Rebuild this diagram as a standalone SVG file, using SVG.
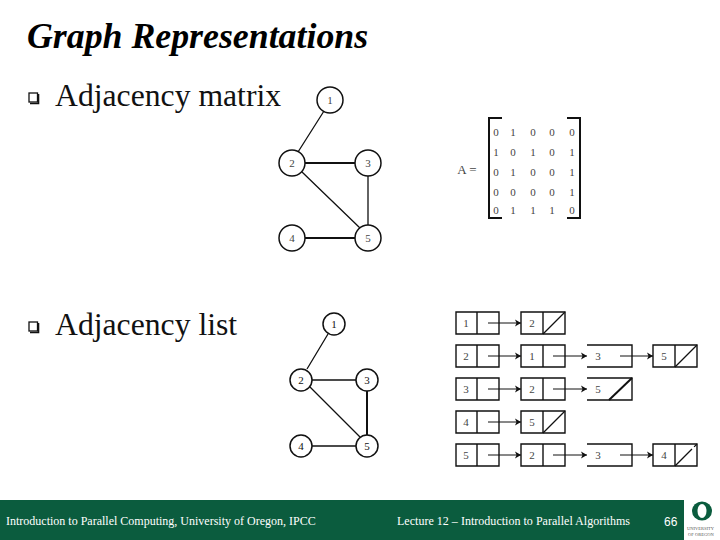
<svg xmlns="http://www.w3.org/2000/svg" width="720" height="540" viewBox="0 0 720 540">
<defs>
<marker id="arr" markerWidth="7" markerHeight="8" refX="6" refY="4" orient="auto" markerUnits="userSpaceOnUse"><path d="M0 0.5L6 4L0 7.5L1.5 4Z" fill="#111"/></marker>
</defs>
<style>
.t{font-family:"Liberation Serif","Times New Roman",serif;fill:#111}
.h{font-size:35.8px;font-weight:bold;font-style:italic;fill:#000}
.b{font-size:31.7px}
.n{font-size:11px;text-anchor:middle;fill:#444}
.m{font-size:11px;text-anchor:middle;fill:#444}
.f{font-size:12px;fill:#fff}
.c{fill:#fff;stroke:#111;stroke-width:1.5}
.e{stroke:#111;stroke-width:1.3;fill:none}
.k{stroke:#111;stroke-width:2;fill:none}
.box{fill:#fff;stroke:#111;stroke-width:1.4}
.a{stroke:#111;stroke-width:1;fill:none;marker-end:url(#arr)}
.s{stroke:#111;stroke-width:1.3;fill:none}
.br{stroke:#111;stroke-width:2;fill:none}
.q{fill:#fff;stroke:#111;stroke-width:1.3}
.qs{fill:none;stroke:#111;stroke-width:1.6}
</style>
<rect width="720" height="540" fill="#fff"/>
<text class="t h" x="27" y="48">Graph Representations</text>
<rect class="q" x="29" y="93" width="8.5" height="9"/><path class="qs" d="M38.5 94V103.5H30"/>
<text class="t b" x="55" y="106">Adjacency matrix</text>
<rect class="q" x="29" y="322" width="8.5" height="9"/><path class="qs" d="M38.5 323V332.500H30"/>
<text class="t b" x="55" y="335">Adjacency list</text>

<g id="g1n1"><circle class="c" cx="330" cy="100" r="13"/><text class="t n" x="330" y="104">1</text></g>
<g id="g1n2"><circle class="c" cx="292" cy="163" r="13"/><text class="t n" x="292" y="167">2</text></g>
<g id="g1n3"><circle class="c" cx="368" cy="163" r="13"/><text class="t n" x="368" y="167">3</text></g>
<g id="g1n4"><circle class="c" cx="292" cy="238" r="13"/><text class="t n" x="292" y="242">4</text></g>
<g id="g1n5"><circle class="c" cx="368" cy="238" r="13"/><text class="t n" x="368" y="242">5</text></g>

<g id="matrix">
<text class="t m" x="467" y="174" style="font-size:13px">A =</text>
<path class="br" d="M502 118H489V218H502M567 118H580V218H567"/>
<g class="t m">
<text x="496" y="136">0</text><text x="513" y="136">1</text><text x="533" y="136">0</text><text x="552" y="136">0</text><text x="572" y="136">0</text>
<text x="496" y="156">1</text><text x="513" y="156">0</text><text x="533" y="156">1</text><text x="552" y="156">0</text><text x="572" y="156">1</text>
<text x="496" y="176">0</text><text x="513" y="176">1</text><text x="533" y="176">0</text><text x="552" y="176">0</text><text x="572" y="176">1</text>
<text x="496" y="196">0</text><text x="513" y="196">0</text><text x="533" y="196">0</text><text x="552" y="196">0</text><text x="572" y="196">1</text>
<text x="496" y="214">0</text><text x="513" y="214">1</text><text x="533" y="214">1</text><text x="552" y="214">1</text><text x="572" y="214">0</text>
</g>
</g>

<g id="g2n1"><circle class="c" cx="334" cy="324" r="11"/><text class="t n" style="fill:#111" x="334" y="328">1</text></g>
<g id="g2n2"><circle class="c" cx="301" cy="380" r="11"/><text class="t n" style="fill:#111" x="301" y="384">2</text></g>
<g id="g2n3"><circle class="c" cx="367" cy="380" r="11"/><text class="t n" style="fill:#111" x="367" y="384">3</text></g>
<g id="g2n4"><circle class="c" cx="301" cy="446" r="11"/><text class="t n" style="fill:#111" x="301" y="450">4</text></g>
<g id="g2n5"><circle class="c" cx="367" cy="446" r="11"/><text class="t n" style="fill:#111" x="367" y="450">5</text></g>

<g id="list">
<g id="row1">
<path class="box" d="M456 312H499V334H456ZM477 312V334M521 312H565V334H521ZM543 312V334"/>
<path class="s" d="M543 334L565 312"/>
<text class="t n" x="466" y="327">1</text><text class="t n" x="532" y="327">2</text>
</g>
<g id="row2">
<path class="box" d="M456 345H499V367H456ZM477 345V367M521 345H565V367H521ZM543 345V367M653 345H697V367H653ZM675 345V367"/>
<path class="box" d="M587 345H632V367H587"/>
<path class="s" d="M675 367L697 345"/>
<text class="t n" x="466" y="360">2</text><text class="t n" x="532" y="360">1</text><text class="t n" x="598" y="360">3</text><text class="t n" x="664" y="360">5</text>
</g>
<g id="row3">
<path class="box" d="M456 378H499V400H456ZM477 378V400M521 378H565V400H521ZM543 378V400"/>
<path class="box" d="M587 378H632V400H587"/>
<path class="k" d="M609 400L632 378"/>
<text class="t n" x="466" y="393">3</text><text class="t n" x="532" y="393">2</text><text class="t n" x="598" y="393">5</text>
</g>
<g id="row4">
<path class="box" d="M456 411H499V433H456ZM477 411V433M521 411H565V433H521ZM543 411V433"/>
<path class="s" d="M543 433L565 411"/>
<text class="t n" x="466" y="426">4</text><text class="t n" x="532" y="426">5</text>
</g>
<g id="row5">
<path class="box" d="M456 444H499V466H456ZM477 444V466M521 444H565V466H521ZM543 444V466M653 444H697V466H653ZM675 444V466"/>
<path class="box" d="M587 444H632V466H587"/>
<path class="s" d="M675 466L697 444" stroke-dasharray="24 3"/>
<text class="t n" x="466" y="459">5</text><text class="t n" x="532" y="459">2</text><text class="t n" x="598" y="459">3</text><text class="t n" x="664" y="459">4</text>
</g>
</g>

<g id="connectors">
<path class="e" d="M324 111L298 152M302 172L360 228M368 176V225"/>
<path class="k" d="M305 163H355M305 238H355"/>
<path class="e" d="M328 334L307 369M312 380H356M310 387L360 437M312 446H356"/>
<path class="k" d="M367 391V435"/>
<path class="a" d="M488 323H521"/><path class="a" d="M488 356H521"/><path class="a" d="M488 389H521"/><path class="a" d="M488 422H521"/><path class="a" d="M488 455H521"/>
<path class="a" d="M553 356H587"/><path class="a" d="M553 389H587"/><path class="a" d="M553 455H587"/>
<path class="a" d="M620 356H653"/><path class="a" d="M620 455H653"/>
</g>

<g id="footer">
<rect x="0" y="500" width="684" height="40" fill="#0b5c3e"/>
<text class="t f" x="6" y="525">Introduction to Parallel Computing, University of Oregon, IPCC</text>
<text class="t f" x="397" y="525" textLength="233">Lecture 12 – Introduction to Parallel Algorithms</text>
<text class="f" style="font-family:'Liberation Sans',Arial,sans-serif" x="664" y="526">66</text>
<ellipse cx="702" cy="511" rx="10" ry="9.500" fill="#0b5c3e"/>
<ellipse cx="702" cy="511" rx="4.500" ry="7" fill="#fff"/>
<text class="t" style="font-size:4.500px;fill:#555" x="687" y="530">UNIVERSITY</text>
<text class="t" style="font-size:4.500px;fill:#555" x="688" y="536">OF OREGON</text>
</g>
</svg>
